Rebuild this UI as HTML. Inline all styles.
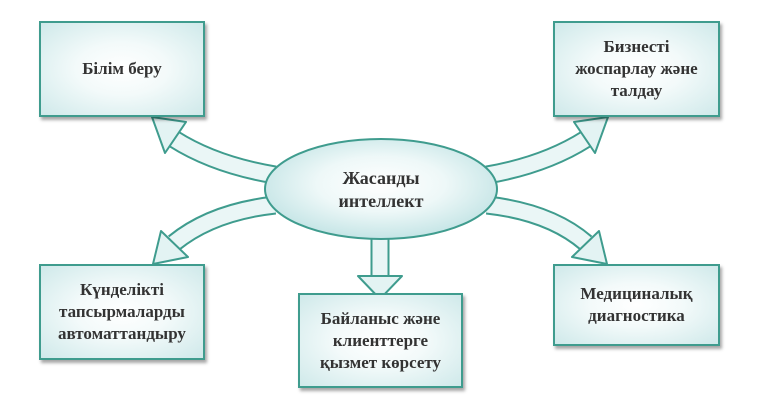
<!DOCTYPE html>
<html><head><meta charset="utf-8"><style>
body{margin:0;background:#fff;width:770px;height:411px;overflow:hidden;position:relative;}
.b{position:absolute;box-sizing:border-box;border:2px solid #3f9c8e;background:radial-gradient(ellipse at center,#ffffff 0%,#f3fafa 40%,#cfe9ea 100%);box-shadow:2px 3px 3px rgba(0,0,0,0.35);display:flex;align-items:center;justify-content:center;text-align:center;font-family:"Liberation Serif",serif;font-size:17px;line-height:22px;color:#333;font-weight:bold;}
svg{position:absolute;left:0;top:0;}
</style></head><body>
<svg width="770" height="411">
<defs><radialGradient id="g" cx="50%" cy="45%" r="55%"><stop offset="0" stop-color="#fff"/><stop offset="0.5" stop-color="#eef8f8"/><stop offset="1" stop-color="#c5e5e6"/></radialGradient></defs>
<g fill="none" stroke-linecap="butt">
<g stroke="#3f9c8e" stroke-width="19">
<path d="M275,175 Q215,165 174,139"/><path d="M487,175 Q545,165 586,139"/>
<path d="M275,205 Q212,212 174,243"/><path d="M487,205 Q550,212 586,243"/>
<path d="M380,232 L380,276"/></g>
<g stroke="#eaf6f6" stroke-width="15">
<path d="M275,175 Q215,165 174,139"/><path d="M487,175 Q545,165 586,139"/>
<path d="M275,205 Q212,212 174,243"/><path d="M487,205 Q550,212 586,243"/>
<path d="M380,232 L380,278"/></g></g>
<g fill="#e3f3f3" stroke="#3f9c8e" stroke-width="2" stroke-linejoin="round">
<polygon points="186,122 152,117 165,153"/>
<polygon points="574,122 608,117 595,153"/>
<polygon points="188,257 153,264 161,231"/>
<polygon points="572,257 607,264 599,231"/>
<polygon points="358,276 402,276 380,299"/>
</g>
<ellipse cx="381" cy="189" rx="116" ry="50" fill="url(#g)" stroke="#3f9c8e" stroke-width="2"/>
<text x="381" y="184" text-anchor="middle" font-family="Liberation Serif,serif" font-size="18" font-weight="bold" fill="#333">Жасанды</text>
<text x="381" y="207" text-anchor="middle" font-family="Liberation Serif,serif" font-size="18" font-weight="bold" fill="#333">интеллект</text>
</svg>
<div class="b" style="left:39px;top:21px;width:166px;height:96px;">Білім беру</div>
<div class="b" style="left:553px;top:21px;width:167px;height:96px;">Бизнесті<br>жоспарлау және<br>талдау</div>
<div class="b" style="left:39px;top:264px;width:166px;height:96px;">Күнделікті<br>тапсырмаларды<br>автоматтандыру</div>
<div class="b" style="left:298px;top:293px;width:165px;height:95px;">Байланыс және<br>клиенттерге<br>қызмет көрсету</div>
<div class="b" style="left:553px;top:264px;width:167px;height:82px;">Медициналық<br>диагностика</div>
</body></html>
